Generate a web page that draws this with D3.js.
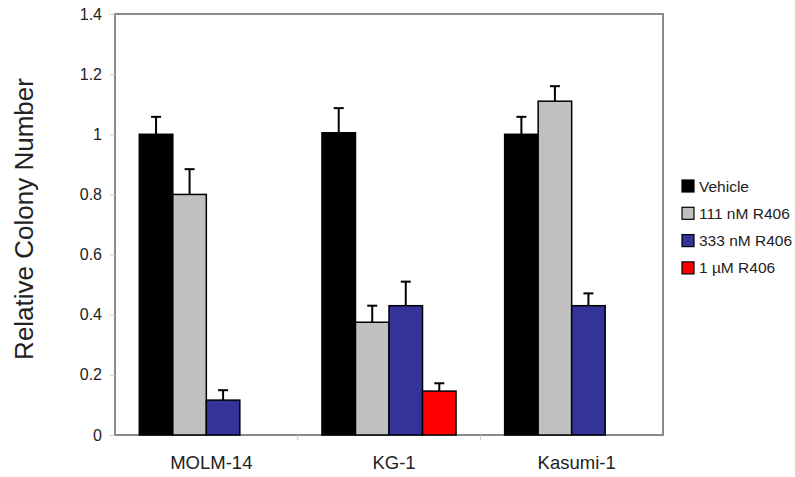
<!DOCTYPE html>
<html lang="en">
<head>
  <meta charset="UTF-8">
  <title>Relative Colony Number</title>
  <style>
    body { margin: 0; background: #fff; }
    text { font-family: "Liberation Sans", Arial, sans-serif; }
  </style>
</head>
<body>
  <div id="chart"></div>

  <script src="https://d3js.org/d3.v7.min.js"></script>
  <script>
    // cell lines and treatments
    const cellLines = ["MOLM-14", "KG-1", "Kasumi-1"];
    const treatments = ["Vehicle", "111 nM R406", "333 nM R406", "1 \u00b5M R406"];
    const colors = ["#000000", "#c0c0c0", "#333399", "#ff0000"];

    // mean values per treatment, in cell line order
    const vehicle = [1.0, 1.005, 1.0];
    const nm111 = [0.80, 0.375, 1.11];
    const nm333 = [0.116, 0.43, 0.43];
    const um1 = [0, 0.146, 0];

    // upper error bar ends (null = no bar)
    const vehicleErr = [1.058, 1.087, 1.058];
    const nm111Err = [0.884, 0.43, 1.16];
    const nm333Err = [0.149, 0.51, 0.471];
    const um1Err = [null, 0.172, null];

    const yTicks = [0, 0.2, 0.4, 0.6, 0.8, 1, 1.2, 1.4];

    const means = [vehicle, nm111, nm333, um1];
    const errs = [vehicleErr, nm111Err, nm333Err, um1Err];

    const data = [];
    cellLines.forEach((c, i) => {
      treatments.forEach((t, j) => {
        data.push({ cell: c, treat: t, color: colors[j], value: means[j][i], err: errs[j][i] });
      });
    });

    const W = 795, H = 477;
    const plot = { left: 115, top: 14, right: 663, bottom: 435 };

    const svg = d3.select("#chart").append("svg")
      .attr("width", W)
      .attr("height", H);

    const x = d3.scaleBand()
      .domain(cellLines)
      .range([plot.left, plot.right])
      .padding(0);

    const pad = 24.3;
    const xInner = d3.scaleBand()
      .domain(treatments)
      .range([pad, x.bandwidth() - pad])
      .padding(0);

    const y = d3.scaleLinear()
      .domain([0, 1.4])
      .range([plot.bottom, plot.top]);

    // frame
    svg.append("rect")
      .attr("x", plot.left)
      .attr("y", plot.top)
      .attr("width", plot.right - plot.left)
      .attr("height", plot.bottom - plot.top)
      .attr("fill", "none")
      .attr("stroke", "#8a8a8a")
      .attr("stroke-width", 2);

    // y axis
    const yAxis = d3.axisLeft(y)
      .tickValues(yTicks)
      .tickSize(5)
      .tickPadding(8)
      .tickFormat(d3.format("~g"));

    const gy = svg.append("g")
      .attr("transform", `translate(${plot.left},0)`)
      .call(yAxis);
    gy.select(".domain").remove();
    gy.selectAll(".tick line").attr("stroke", "#c8c8c8");
    gy.selectAll(".tick text")
      .attr("font-size", 16)
      .attr("fill", "#222");

    // x axis: ticks at category boundaries
    const gx = svg.append("g")
      .attr("transform", `translate(0,${plot.bottom})`);
    gx.selectAll("line")
      .data(cellLines.slice(1))
      .enter().append("line")
      .attr("x1", d => x(d))
      .attr("x2", d => x(d))
      .attr("y1", 0)
      .attr("y2", 5)
      .attr("stroke", "#c8c8c8");
    gx.selectAll("text")
      .data(cellLines)
      .enter().append("text")
      .attr("x", d => x(d) + x.bandwidth() / 2 + 5)
      .attr("y", 34)
      .attr("text-anchor", "middle")
      .attr("font-size", 18.5)
      .attr("fill", "#222")
      .text(d => d);

    // bars
    const bars = svg.append("g");
    bars.selectAll("rect")
      .data(data)
      .enter().append("rect")
      .attr("x", d => x(d.cell) + xInner(d.treat))
      .attr("y", d => y(d.value))
      .attr("width", xInner.bandwidth())
      .attr("height", d => y(0) - y(d.value))
      .attr("fill", d => d.color)
      .attr("stroke", d => d.value > 0 ? "#000" : "#888")
      .attr("stroke-width", 1.5);

    // error bars (upper only)
    const eb = svg.append("g")
      .attr("stroke", "#000")
      .attr("stroke-width", 2);
    const withErr = data.filter(d => d.err != null);
    eb.selectAll("line.v")
      .data(withErr)
      .enter().append("line")
      .attr("class", "v")
      .attr("x1", d => x(d.cell) + xInner(d.treat) + xInner.bandwidth() / 2)
      .attr("x2", d => x(d.cell) + xInner(d.treat) + xInner.bandwidth() / 2)
      .attr("y1", d => y(d.value))
      .attr("y2", d => y(d.err));
    eb.selectAll("line.cap")
      .data(withErr)
      .enter().append("line")
      .attr("class", "cap")
      .attr("x1", d => x(d.cell) + xInner(d.treat) + xInner.bandwidth() / 2 - 5)
      .attr("x2", d => x(d.cell) + xInner(d.treat) + xInner.bandwidth() / 2 + 5)
      .attr("y1", d => y(d.err))
      .attr("y2", d => y(d.err));

    // y label
    svg.append("text")
      .attr("transform", "translate(33,219) rotate(-90)")
      .attr("text-anchor", "middle")
      .attr("font-size", 26)
      .attr("fill", "#222")
      .text("Relative Colony Number");

    // legend
    const legend = svg.append("g")
      .attr("transform", "translate(682,186)");
    const item = legend.selectAll("g")
      .data(treatments)
      .enter().append("g")
      .attr("transform", (d, i) => `translate(0,${i * 27.3})`);
    item.append("rect")
      .attr("x", 0)
      .attr("y", -6)
      .attr("width", 12)
      .attr("height", 12)
      .attr("fill", (d, i) => colors[i])
      .attr("stroke", "#000")
      .attr("stroke-width", 1.2);
    item.append("text")
      .attr("x", 17)
      .attr("y", 5.5)
      .attr("font-size", 15.5)
      .attr("fill", "#222")
      .text(d => d);
  </script>
</body>
</html>
